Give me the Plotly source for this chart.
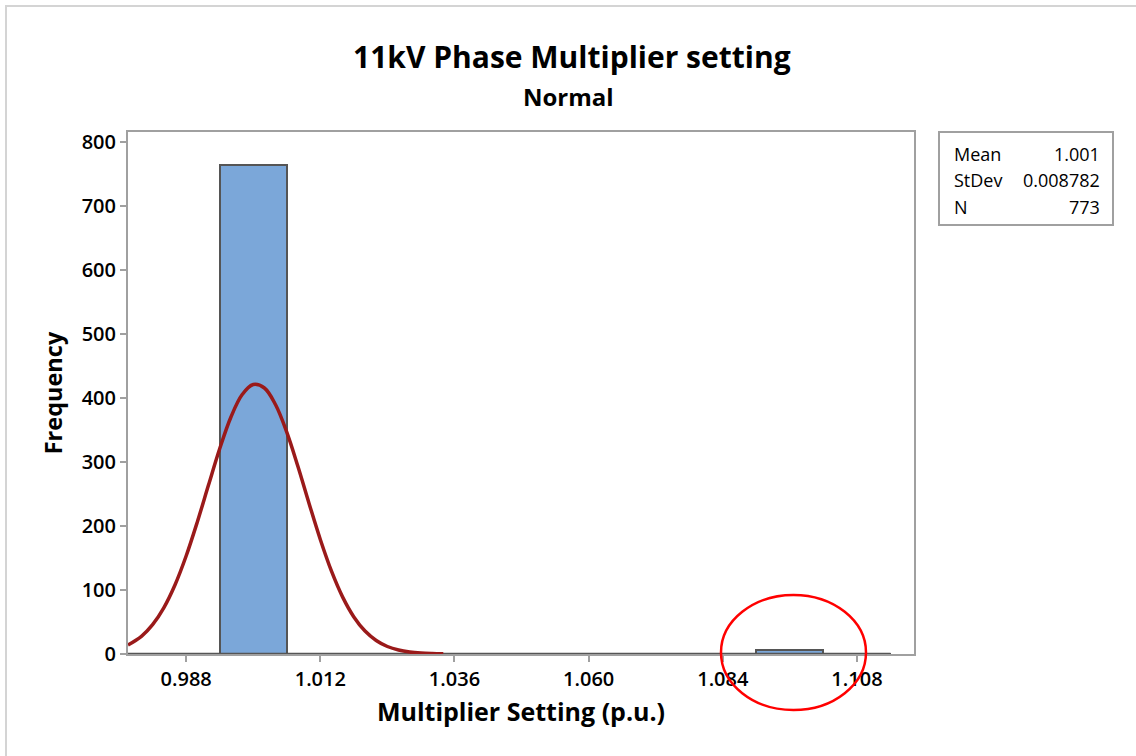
import plotly.graph_objects as go

# ---- data ----
bin_centers = [0.976, 0.988, 1.000, 1.012, 1.024, 1.036, 1.048, 1.060, 1.072, 1.084, 1.096, 1.108]
bin_counts = [0, 0, 763, 0, 0, 0, 0, 0, 0, 0, 7, 0]
bin_width = 0.012

curve_x = [0.9776, 0.980, 0.982, 0.984, 0.986, 0.988, 0.990, 0.992, 0.994, 0.996, 0.998,
           1.000, 1.002, 1.004, 1.006, 1.008, 1.010, 1.012, 1.014, 1.016, 1.018, 1.020,
           1.022, 1.024, 1.026, 1.028, 1.030, 1.032, 1.034]
curve_y = [14.1, 27.6, 45.8, 72.1, 107.8, 153.0, 206.2, 263.8, 320.4, 369.6, 404.7,
           420.7, 415.3, 389.2, 346.4, 292.6, 234.7, 178.8, 129.3, 88.8, 57.9, 35.8,
           21.1, 11.7, 6.2, 3.1, 1.5, 0.7, 0.3]

x_ticks = [0.988, 1.012, 1.036, 1.060, 1.084, 1.108]
y_ticks = [0, 100, 200, 300, 400, 500, 600, 700, 800]

stat_names = ["Mean", "StDev", "N"]
stat_values = ["1.001", "0.008782", "773"]

FONT = "Open Sans"

fig = go.Figure()

# baseline of empty bins (outline of zero-height bins)
edge_lo = bin_centers[0] - bin_width / 2
edge_hi = bin_centers[-1] + bin_width / 2
fig.add_trace(go.Scatter(x=[edge_lo, edge_hi], y=[0, 0], mode="lines",
                         line=dict(color="#555555", width=2.5), hoverinfo="skip",
                         showlegend=False))

fig.add_trace(go.Bar(x=bin_centers, y=bin_counts, width=bin_width,
                     marker=dict(color="#7BA7D9", line=dict(color="#555555", width=2)),
                     showlegend=False))

fig.add_trace(go.Scatter(x=curve_x, y=curve_y, mode="lines", line_shape="spline",
                         line=dict(color="#9A1A1A", width=3.5), showlegend=False))

L, R, T, B = 128, 222, 132, 102
W, H = 1136, 756
pw, ph = W - L - R, H - T - B

def px(xp):
    return (xp - L) / pw

def py(yp):
    return (H - B - yp) / ph

shapes = [
    # outer light border
    dict(type="rect", xref="paper", yref="paper", x0=px(6), x1=px(1145), y0=py(765), y1=py(6),
         line=dict(color="#d4d4d4", width=2), fillcolor="rgba(0,0,0,0)", layer="below"),
    # stats box
    dict(type="rect", xref="paper", yref="paper", x0=px(939), x1=px(1113), y0=py(225), y1=py(132),
         line=dict(color="#a0a0a0", width=2), fillcolor="white"),
    # red ellipse
    dict(type="circle", xref="paper", yref="paper", x0=px(721), x1=px(866), y0=py(710), y1=py(595),
         line=dict(color="#FF0000", width=2.5)),
]

annotations = [
    dict(text="<b>11kV Phase Multiplier setting</b>", xref="paper", yref="paper",
         x=px(572), y=py(57), showarrow=False, font=dict(size=30, color="black", family=FONT),
         xanchor="center", yanchor="middle"),
    dict(text="<b>Normal</b>", xref="paper", yref="paper",
         x=px(568), y=py(96), showarrow=False, font=dict(size=24, color="black", family=FONT),
         xanchor="center", yanchor="middle"),
]
line_ys = [154, 180, 207]
for name, val, yy in zip(stat_names, stat_values, line_ys):
    annotations.append(dict(text=name, xref="paper", yref="paper", x=px(952), y=py(yy),
                            showarrow=False, xanchor="left", yanchor="middle",
                            font=dict(size=18, color="black", family=FONT)))
    annotations.append(dict(text=val, xref="paper", yref="paper", x=px(1102), y=py(yy),
                            showarrow=False, xanchor="right", yanchor="middle",
                            font=dict(size=18, color="black", family=FONT)))

fig.update_layout(
    width=W, height=H,
    margin=dict(l=L, r=R, t=T, b=B),
    paper_bgcolor="white", plot_bgcolor="white",
    font=dict(family=FONT, color="black"),
    shapes=shapes, annotations=annotations,
    bargap=0,
    xaxis=dict(range=[0.9776, 1.1182], tickvals=x_ticks,
               ticktext=[f"{v:.3f}" for v in x_ticks],
               showgrid=False, zeroline=False, showline=True, mirror=True,
               linecolor="#a0a0a0", linewidth=2, ticks="outside", ticklen=6,
               tickcolor="#a0a0a0", tickwidth=2,
               tickfont=dict(size=20, color="black", weight=600),
               title=dict(text="<b>Multiplier Setting (p.u.)</b>", font=dict(size=25), standoff=12)),
    yaxis=dict(range=[0, 815], tickvals=y_ticks, showgrid=False, zeroline=False,
               showline=True, mirror=True, linecolor="#a0a0a0", linewidth=2,
               ticks="outside", ticklen=6, tickcolor="#a0a0a0", tickwidth=2,
               tickfont=dict(size=20, color="black", weight=600),
               title=dict(text="<b>Frequency</b>", font=dict(size=23.5), standoff=12)),
)

fig.write_html("out.html")
